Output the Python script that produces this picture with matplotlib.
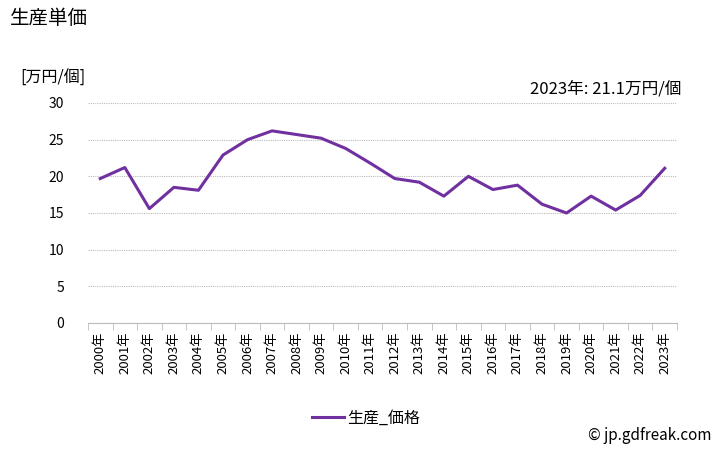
import numpy as np
import matplotlib
matplotlib.use('Agg')
import matplotlib.pyplot as plt

plt.rcParams['font.family'] = ['Noto Sans CJK JP', 'DejaVu Sans']

# data
years = [f'{y}年' for y in range(2000, 2024)]
price = [19.7, 21.2, 15.6, 18.5, 18.1, 22.9, 25.0, 26.2, 25.7, 25.2, 23.8, 21.8,
         19.7, 19.2, 17.3, 20.0, 18.2, 18.8, 16.2, 15.0, 17.3, 15.4, 17.4, 21.1]
yticks = [0, 5, 10, 15, 20, 25, 30]

fig = plt.figure(figsize=(7.28, 4.5), dpi=100)
ax = fig.add_axes([88 / 728, 1 - 323 / 450, (677 - 88) / 728, (323 - 103) / 450])

x = np.arange(len(years))
ax.plot(x, price, color='#7030A0', linewidth=2.2, label='生産_価格')

ax.set_xlim(-0.5, len(years) - 0.5)
ax.set_ylim(0, 30)
ax.set_yticks(yticks)
ax.set_xticks(x)
ax.set_xticklabels(years, rotation=90, fontsize=9.5)
ax.set_xticks(np.arange(-0.5, len(years)), minor=True)
ax.tick_params(axis='x', which='major', length=0, pad=6)
ax.tick_params(axis='x', which='minor', length=5, color='#bbbbbb')
ax.tick_params(axis='y', length=0, labelsize=10, pad=17)

ax.grid(axis='y', color='#bbbbbb', linestyle=(0, (1, 1)), linewidth=0.8)
ax.set_axisbelow(True)
for s in ['top', 'right', 'left']:
    ax.spines[s].set_visible(False)
ax.spines['bottom'].set_color('#bbbbbb')

fig.text(10 / 728, 1 - 18 / 450, '生産単価', fontsize=14, va='center', ha='left')
fig.text(20 / 728, 1 - 78 / 450, '[万円/個]', fontsize=11.5, va='center', ha='left')
fig.text(681 / 728, 1 - 89 / 450, '2023年: 21.1万円/個', fontsize=12, va='center', ha='right')
fig.text(712 / 728, 1 - 436 / 450, '© jp.gdfreak.com', fontsize=11, va='center', ha='right')

fig.legend(loc='center', bbox_to_anchor=(366 / 728, 1 - 418 / 450), frameon=False,
           fontsize=11.5, handlelength=2.0, handletextpad=0.2)

fig.savefig('out.png', dpi=100)
